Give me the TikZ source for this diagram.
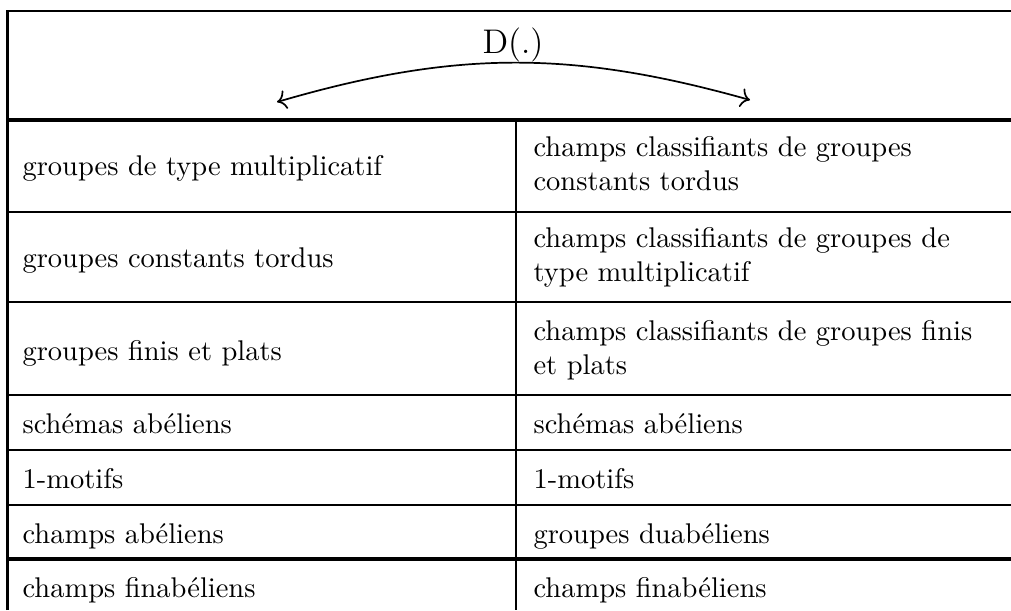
\documentclass[tikz,border=0pt]{standalone}
\usetikzlibrary{arrows.meta, positioning}

\begin{document}
\begin{tikzpicture}[
    x=0.351pt, y=-0.351pt,
    cell/.style={anchor=base west, inner sep=0pt, align=left, text width=165pt},
    rule/.style={line width=0.8pt},
    heavyrule/.style={line width=1.2pt},
    arrow/.style={{Computer Modern Rightarrow[scale=1.1]}-{Computer Modern Rightarrow[scale=1.1]}, line width=0.6pt}
]
\useasboundingbox (0,0) rectangle (1011,610);

% Frame and rules
\draw[rule] (7.5,610) -- (7.5,11) -- (1011,11);
\draw[heavyrule] (7.5,120) -- (1011,120);
\draw[rule] (7.5,212) -- (1011,212);
\draw[rule] (7.5,302) -- (1011,302);
\draw[rule] (7.5,395) -- (1011,395);
\draw[rule] (7.5,450) -- (1011,450);
\draw[rule] (7.5,505) -- (1011,505);
\draw[heavyrule] (7.5,559) -- (1011,559);
\draw[rule] (516,120) -- (516,610);

% Header
\node[anchor=base, font=\large] (dual) at (513,53) {D(.)};
\coordinate (src) at (277,102);
\coordinate (tgt) at (750,100);
\draw[arrow] (src) .. controls (455,50) and (572,50) .. (tgt);

% Left column
\node[cell] (l1) at (22,175) {groupes de type multiplicatif};
\node[cell] (l2) at (22,267) {groupes constants tordus};
\node[cell] (l3) at (22,360) {groupes finis et plats};
\node[cell] (l4) at (22,433) {schémas abéliens};
\node[cell] (l5) at (22,488) {1-motifs};
\node[cell] (l6) at (22,543) {champs abéliens};
\node[cell] (l7) at (22,597) {champs finabéliens};

% Right column
\node[cell] (r1) at (533,156) {champs classifiants de groupes\\constants tordus};
\node[cell] (r2) at (533,247) {champs classifiants de groupes de\\type multiplicatif};
\node[cell] (r3) at (533,340) {champs classifiants de groupes finis\\et plats};
\node[cell] (r4) at (533,433) {schémas abéliens};
\node[cell] (r5) at (533,488) {1-motifs};
\node[cell] (r6) at (533,543) {groupes duabéliens};
\node[cell] (r7) at (533,597) {champs finabéliens};

\end{tikzpicture}
\end{document}
